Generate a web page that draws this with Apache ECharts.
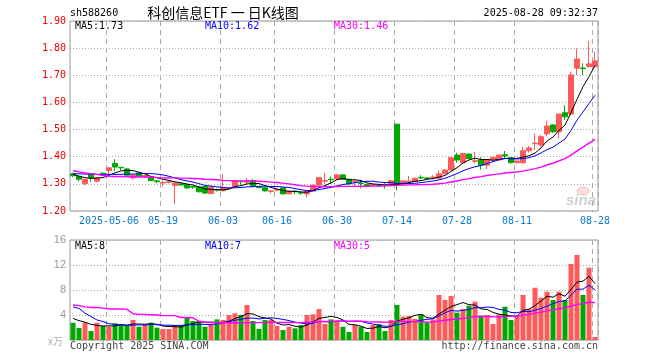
<!DOCTYPE html>
<html><head><meta charset="utf-8">
<script src="https://cdn.jsdelivr.net/npm/echarts@6/dist/echarts.min.js"></script>
<style>html,body{margin:0;padding:0;background:#fff}#c{width:660px;height:360px}</style>
</head><body><div id="c"></div><script>
const dates = [
'2025-04-23','2025-04-24','2025-04-25','2025-04-28','2025-04-29','2025-04-30',
'2025-05-06','2025-05-07','2025-05-08','2025-05-09',
'2025-05-12','2025-05-13','2025-05-14','2025-05-15','2025-05-16',
'2025-05-19','2025-05-20','2025-05-21','2025-05-22','2025-05-23',
'2025-05-26','2025-05-27','2025-05-28','2025-05-29','2025-05-30',
'2025-06-03','2025-06-04','2025-06-05','2025-06-06',
'2025-06-09','2025-06-10','2025-06-11','2025-06-12','2025-06-13',
'2025-06-16','2025-06-17','2025-06-18','2025-06-19','2025-06-20',
'2025-06-23','2025-06-24','2025-06-25','2025-06-26','2025-06-27',
'2025-06-30','2025-07-01','2025-07-02','2025-07-03','2025-07-04',
'2025-07-07','2025-07-08','2025-07-09','2025-07-10','2025-07-11',
'2025-07-14','2025-07-15','2025-07-16','2025-07-17','2025-07-18',
'2025-07-21','2025-07-22','2025-07-23','2025-07-24','2025-07-25',
'2025-07-28','2025-07-29','2025-07-30','2025-07-31','2025-08-01',
'2025-08-04','2025-08-05','2025-08-06','2025-08-07','2025-08-08',
'2025-08-11','2025-08-12','2025-08-13','2025-08-14','2025-08-15',
'2025-08-18','2025-08-19','2025-08-20','2025-08-21','2025-08-22',
'2025-08-25','2025-08-26','2025-08-27','2025-08-28'];

// tick labels shown on the date axis
const tickIdx = [6,15,25,34,44,54,64,74,87];
const tickLabels = ['2025-05-06','05-19','06-03','06-16','06-30','07-14','07-28','08-11','08-28'];

const opens = [1.337,1.328,1.301,1.337,1.310,1.339,1.349,1.375,1.361,1.355,
1.322,1.340,1.327,1.325,1.311,1.303,1.306,1.294,1.300,1.297,
1.290,1.289,1.290,1.264,1.279,1.275,1.283,1.288,1.310,1.306,
1.312,1.290,1.286,1.272,1.277,1.285,1.263,1.273,1.268,1.263,
1.273,1.296,1.310,1.317,1.318,1.333,1.317,1.308,1.303,1.298,
1.295,1.294,1.297,1.300,1.520,1.300,1.308,1.309,1.324,1.322,
1.323,1.321,1.337,1.351,1.406,1.378,1.410,1.383,1.388,1.369,
1.388,1.388,1.407,1.395,1.378,1.378,1.422,1.448,1.443,1.484,
1.517,1.492,1.562,1.557,1.726,1.727,1.732,1.732];
const closes = [1.330,1.317,1.317,1.322,1.322,1.337,1.359,1.362,1.359,1.332,
1.333,1.328,1.331,1.312,1.308,1.305,1.308,1.303,1.296,1.285,
1.288,1.271,1.266,1.289,1.277,1.286,1.285,1.312,1.308,1.308,
1.292,1.286,1.274,1.274,1.279,1.263,1.273,1.271,1.266,1.273,
1.295,1.323,1.312,1.315,1.333,1.317,1.300,1.310,1.301,1.290,
1.297,1.292,1.295,1.311,1.296,1.311,1.310,1.321,1.322,1.320,
1.325,1.337,1.351,1.396,1.388,1.412,1.393,1.385,1.369,1.390,
1.398,1.406,1.403,1.378,1.384,1.422,1.432,1.450,1.474,1.513,
1.492,1.557,1.547,1.701,1.760,1.725,1.742,1.753];
const lows = [1.325,1.310,1.295,1.307,1.305,1.332,1.337,1.347,1.350,1.330,
1.315,1.327,1.324,1.310,1.303,1.290,1.301,1.225,1.293,1.281,
1.282,1.268,1.263,1.262,1.272,1.272,1.280,1.286,1.297,1.300,
1.288,1.284,1.272,1.265,1.275,1.261,1.262,1.262,1.260,1.250,
1.270,1.294,1.300,1.300,1.316,1.315,1.298,1.288,1.284,1.289,
1.293,1.288,1.283,1.290,1.276,1.298,1.305,1.307,1.317,1.316,
1.317,1.319,1.336,1.350,1.378,1.376,1.391,1.375,1.353,1.355,
1.386,1.386,1.394,1.375,1.376,1.375,1.415,1.425,1.437,1.474,
1.488,1.468,1.535,1.555,1.701,1.701,1.729,1.729];
const highs = [1.341,1.330,1.318,1.338,1.324,1.342,1.360,1.391,1.362,1.357,
1.335,1.341,1.333,1.326,1.314,1.312,1.310,1.305,1.302,1.298,
1.293,1.291,1.292,1.290,1.283,1.335,1.288,1.314,1.313,1.322,
1.318,1.292,1.287,1.278,1.283,1.286,1.275,1.278,1.270,1.276,
1.297,1.325,1.340,1.327,1.336,1.336,1.318,1.317,1.311,1.299,
1.300,1.296,1.305,1.315,1.520,1.312,1.329,1.322,1.332,1.324,
1.332,1.349,1.352,1.398,1.415,1.413,1.411,1.418,1.398,1.391,
1.399,1.407,1.421,1.397,1.386,1.437,1.439,1.486,1.480,1.533,
1.520,1.558,1.590,1.713,1.799,1.744,1.826,1.787];
const volumes = [2.77,1.92,2.77,1.44,2.77,2.24,2.13,2.67,2.4,2.4,
3.2,2.13,2.5,2.77,1.97,1.76,1.76,2.4,2.4,3.68,
3.04,3.04,2.13,2.4,3.3,3.2,4.0,4.27,4.0,5.6,
3.04,1.76,3.2,3.2,2.24,1.6,2.13,1.87,2.4,4.0,
4.1,4.96,2.56,3.3,3.1,2.13,1.28,2.4,2.13,1.28,
2.4,2.56,1.44,3.2,5.6,3.73,3.84,3.36,4.1,2.83,
3.3,7.2,6.4,7.04,4.37,4.96,5.49,6.13,3.9,4.0,
2.56,4.1,5.33,3.2,3.9,7.2,4.96,8.37,6.77,7.73,
6.4,7.73,6.4,12.16,13.6,7.2,11.57,0.48];

const ma5Head = [1.335,1.328,1.323,1.320];
const ma10Head = [1.337,1.337,1.336,1.336,1.335,1.335,1.335,1.335,1.335];
const ma30Head = [1.349,1.344,1.340,1.337,1.335,1.331,1.328,1.327,1.327,1.326,1.326,1.325,1.325,1.325,1.323,1.322,1.322,1.322,1.321,1.321,1.320,1.319,1.317,1.316,1.315,1.313,1.312,1.311,1.310];
const vma5Head = [3.45,3.1,2.85,2.5];
const vma10Head = [5.3,5.05,4.3,3.75,3.2,2.95,2.6,2.5,2.45];
const vma30Head = [5.6,5.5,5.3,5.2,5.2,5.1,4.96,4.96,4.96,4.9,4.2,4.1,4.1,4.05,4.0,3.9,3.9,3.9,3.6,3.6,3.55,3.0,2.85,2.8,2.75,2.75,2.75,2.75,2.75];

const priceTicks = ['1.20','1.30','1.40','1.50','1.60','1.70','1.80','1.90'];
const volTicks = ['', '4', '8', '12', '16'];
const maTexts = ['MA5:1.73','MA10:1.62','MA30:1.46'];
const vmaTexts = ['MA5:8','MA10:7','MA30:5'];

function ma(arr, n, head) {
  return arr.map((v, i) => {
    if (i < n - 1) return head[i];
    let s = 0; for (let k = i - n + 1; k <= i; k++) s += arr[k];
    return +(s / n).toFixed(4);
  });
}

const UP = '#ff5a5a', DOWN = '#00a800';
const ohlc = opens.map((o, i) => [o, closes[i], lows[i], highs[i]]);
const volData = volumes.map((v, i) => ({ value: v, itemStyle: { color: closes[i] >= opens[i] ? UP : DOWN } }));
const MONO = 'DejaVu Sans Mono';
const isTick = (i) => tickIdx.indexOf(i) >= 0;

const chart = echarts.init(document.getElementById('c'), null, { renderer: 'canvas' });

function lineSeries(name, data, color, xi, w) {
  return { name, type: 'line', xAxisIndex: xi, yAxisIndex: xi, data, symbol: 'none', showSymbol: false,
    lineStyle: { color, width: w || 1 }, itemStyle: { color }, z: 5, silent: true };
}
function txt(x, y, text, fill, align, font) {
  return { type: 'text', x: 0, y: 0, silent: true, z: 100,
    style: { x, y, text, fill, font: font || ('10px ' + MONO), align: align || 'left', textAlign: align || 'left',
      verticalAlign: 'middle', textVerticalAlign: 'middle' } };
}

const xBase = (gi, showLabel) => ({
  type: 'category', gridIndex: gi, data: dates, boundaryGap: true,
  axisLine: { show: false }, axisTick: { show: false },
  axisLabel: showLabel ? {
    interval: (i) => isTick(i),
    formatter: (v, i) => tickLabels[tickIdx.indexOf(i)] || '',
    color: '#0a78d0', fontFamily: MONO, fontSize: 10, margin: 5
  } : { show: false },
  splitLine: { show: true, interval: (i) => isTick(i), lineStyle: { color: '#aaa', type: [5, 4], width: 1 } }
});

const option = {
  animation: false,
  backgroundColor: '#ffffff',
  grid: [
    { left: 70, top: 21, width: 528, height: 190, show: true, borderColor: '#999', borderWidth: 1 },
    { left: 70, top: 240, width: 528, height: 100, show: true, borderColor: '#999', borderWidth: 1 }
  ],
  xAxis: [xBase(0, true), xBase(1, false)],
  yAxis: [
    { type: 'value', gridIndex: 0, min: 1.2, max: 1.9, interval: 0.1,
      axisLine: { show: false }, axisTick: { show: false },
      axisLabel: { formatter: (v) => priceTicks[Math.round((v - 1.2) * 10)], color: '#ee0000', fontFamily: MONO, fontSize: 10, margin: 4 },
      splitLine: { lineStyle: { color: '#aaa', type: [1, 2], width: 1 } } },
    { type: 'value', gridIndex: 1, min: 0, max: 16, interval: 4,
      axisLine: { show: false }, axisTick: { show: false },
      axisLabel: { formatter: (v) => volTicks[Math.round(v / 4)], color: '#999', fontFamily: 'Liberation Sans', fontSize: 11, margin: 4 },
      splitLine: { lineStyle: { color: '#aaa', type: [1, 2], width: 1 } } }
  ],
  series: [
    { type: 'candlestick', xAxisIndex: 0, yAxisIndex: 0, data: ohlc, barWidth: 5, z: 3,
      itemStyle: { color: UP, color0: DOWN, borderColor: UP, borderColor0: DOWN, borderWidth: 1 } },
    lineSeries('MA5', ma(closes, 5, ma5Head), '#000000', 0),
    lineSeries('MA10', ma(closes, 10, ma10Head), '#0000ff', 0),
    lineSeries('MA30', ma(closes, 30, ma30Head), '#ff00ff', 0, 1.4),
    { type: 'bar', xAxisIndex: 1, yAxisIndex: 1, data: volData, barWidth: 5, z: 3 },
    lineSeries('VMA5', ma(volumes, 5, vma5Head), '#000000', 1),
    lineSeries('VMA10', ma(volumes, 10, vma10Head), '#0000ff', 1),
    lineSeries('VMA30', ma(volumes, 30, vma30Head), '#ff00ff', 1, 1.4)
  ],
  graphic: [
    txt(70, 13.5, 'sh588260', '#000'),
    txt(223, 12.5, '科创信息ETF 一 日K线图', '#000', 'center', '14px "Noto Sans CJK SC"'),
    txt(598, 13.5, '2025-08-28 09:32:37', '#000', 'right'),
    txt(75, 26, maTexts[0], '#000'),
    txt(205, 26, maTexts[1], '#0000ff'),
    txt(334, 26, maTexts[2], '#ff00ff'),
    txt(75, 246.5, vmaTexts[0], '#000'),
    txt(205, 246.5, vmaTexts[1], '#0000ff'),
    txt(334, 246.5, vmaTexts[2], '#ff00ff'),
    txt(63, 341, 'x万', '#b0b0b0', 'right', '10px "Noto Sans CJK SC"'),
    txt(70, 346, 'Copyright 2025 SINA.COM', '#444', 'left'),
    txt(598, 346, 'http://finance.sina.com.cn', '#444', 'right'),
    { type: 'ellipse', silent: true, z: 1, shape: { cx: 583, cy: 191, rx: 6, ry: 4 },
      style: { fill: 'rgba(240,170,170,0.35)', stroke: 'rgba(230,150,150,0.5)', lineWidth: 1 } },
    txt(581, 201, 'sina', 'rgba(170,170,170,0.55)', 'center', 'italic bold 15px "Liberation Sans"')
  ]
};
chart.setOption(option);
</script></body></html>
